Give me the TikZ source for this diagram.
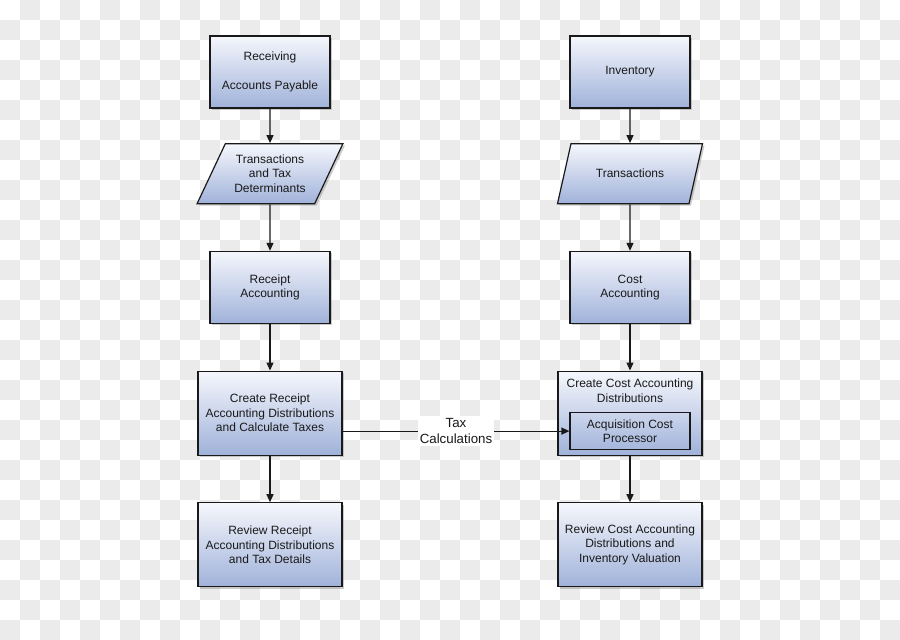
\documentclass[tikz,border=0pt]{standalone}
\usepackage{fontspec}
\setmainfont{Liberation Sans}
\usetikzlibrary{shapes.geometric, arrows.meta, positioning, shadows}
\definecolor{boxtop}{RGB}{245,247,252}
\definecolor{boxbottom}{RGB}{160,178,218}
\definecolor{checker}{RGB}{235,235,235}
\definecolor{ink}{RGB}{25,25,25}
\tikzstyle{process} = [rectangle, minimum width=120pt, minimum height=72pt, text centered, align=center, draw=ink, line width=1.2pt, top color=boxtop, bottom color=boxbottom, drop shadow={shadow xshift=2pt, shadow yshift=-2pt, fill=black!40}]
\tikzstyle{bigprocess} = [process, minimum width=144pt, minimum height=84pt]
\tikzstyle{io} = [trapezium, trapezium left angle=61, trapezium right angle=119, trapezium stretches=true, minimum width=146pt, minimum height=60pt, text centered, align=center, draw=ink, line width=1.2pt, top color=boxtop, bottom color=boxbottom, drop shadow={shadow xshift=2pt, shadow yshift=-2pt, fill=black!40}]
\tikzstyle{subprocess} = [rectangle, minimum width=120pt, minimum height=37pt, align=center, draw=ink, line width=1.2pt]
\tikzstyle{arrow} = [line width=1.2pt, draw=ink, -{Triangle[length=8pt, width=7pt]}]

\begin{document}
\begin{tikzpicture}[node distance = 46.5pt, font=\fontsize{12}{14.5}\selectfont, text=ink]
    \useasboundingbox (0,0) rectangle (900pt,-640pt);
    % checkered background
    \foreach \i in {0,...,44}
        \foreach \j in {0,...,31} {
            \ifodd\numexpr\i+\j\relax
                \fill [checker] (\i*20pt,-\j*20pt) rectangle ++(20pt,-20pt);
            \fi
        }

    % receiving side
    \node (recv) [process] at (270pt,-72pt) {Receiving\\[14.5pt]Accounts Payable};
    \node (rtrans) [io, below=34.5pt of recv] {Transactions\\and Tax\\Determinants};
    \node (racct) [process, below=of rtrans] {Receipt\\Accounting};
    \node (crad) [bigprocess, below=of racct] {Create Receipt\\Accounting Distributions\\and Calculate Taxes};
    \node (rrad) [bigprocess, below=of crad] {Review Receipt\\Accounting Distributions\\and Tax Details};

    % inventory side
    \node (inv) [process] at (630pt,-72pt) {Inventory};
    \node (itrans) [io, below=34.5pt of inv] {Transactions};
    \node (cacct) [process, below=of itrans] {Cost\\Accounting};
    \node (ccad) [bigprocess, below=of cacct] {};
    \node (ccadtext) [align=center] at ([yshift=-20pt]ccad.north) {Create Cost Accounting\\Distributions};
    \node (acp) [subprocess] at ([yshift=-18pt]ccad.center) {Acquisition Cost\\Processor};
    \node (rcad) [bigprocess, below=of ccad] {Review Cost Accounting\\Distributions and\\Inventory Valuation};

    \draw [arrow] (recv) -- (rtrans);
    \draw [arrow] (rtrans) -- (racct);
    \draw [arrow] (racct) -- (crad);
    \draw [arrow] (crad) -- (rrad);
    \draw [arrow] (inv) -- (itrans);
    \draw [arrow] (itrans) -- (cacct);
    \draw [arrow] (cacct) -- (ccad);
    \draw [arrow] (ccad) -- (rcad);
    \draw [arrow] (crad.east |- acp) -- node [fill=white, align=center, inner sep=2pt, font=\fontsize{13.3}{16}\selectfont] {Tax\\Calculations} (acp.west);
\end{tikzpicture}
\end{document}
